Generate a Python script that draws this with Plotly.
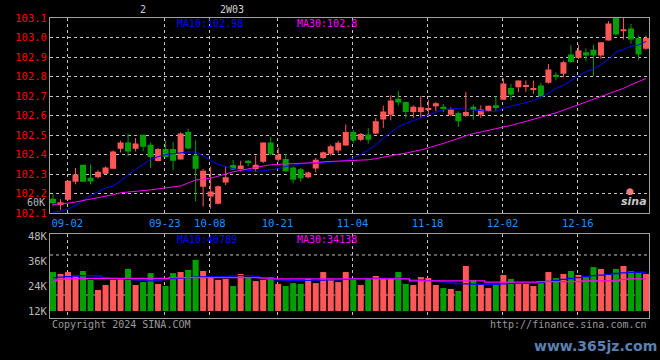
import plotly.graph_objects as go

# ---------------- data ----------------
opens = [102.174, 102.142, 102.169, 102.262, 102.349, 102.282, 102.285, 102.303, 102.328, 102.431,
         102.463, 102.431, 102.502, 102.451, 102.368, 102.429, 102.429, 102.376, 102.516, 102.396,
         102.236, 102.186, 102.149, 102.258, 102.347, 102.325, 102.369, 102.327, 102.364, 102.463,
         102.374, 102.378, 102.335, 102.325, 102.284, 102.330, 102.383, 102.405, 102.422, 102.447,
         102.516, 102.477, 102.503, 102.508, 102.580, 102.605, 102.687, 102.670, 102.619, 102.619,
         102.631, 102.648, 102.646, 102.605, 102.614, 102.598, 102.646, 102.605, 102.622, 102.653,
         102.682, 102.742, 102.745, 102.747, 102.732, 102.755, 102.768, 102.810, 102.815, 102.913,
         102.895, 102.925, 102.938, 102.908, 102.985, 103.104, 103.032, 103.046, 102.997, 102.942]
highs = [102.198, 102.173, 102.267, 102.332, 102.349, 102.349, 102.320, 102.340, 102.422, 102.472,
         102.509, 102.485, 102.502, 102.463, 102.434, 102.473, 102.465, 102.515, 102.533, 102.473,
         102.326, 102.340, 102.243, 102.338, 102.374, 102.369, 102.373, 102.395, 102.463, 102.491,
         102.436, 102.403, 102.340, 102.333, 102.314, 102.383, 102.417, 102.451, 102.470, 102.554,
         102.528, 102.511, 102.537, 102.588, 102.651, 102.704, 102.726, 102.673, 102.653, 102.701,
         102.682, 102.670, 102.660, 102.643, 102.622, 102.721, 102.656, 102.653, 102.651, 102.699,
         102.790, 102.762, 102.780, 102.780, 102.780, 102.768, 102.865, 102.822, 102.882, 102.959,
         102.963, 102.944, 102.964, 102.976, 103.084, 103.109, 103.101, 103.070, 103.010, 103.010]
lows = [102.135, 102.118, 102.166, 102.248, 102.262, 102.248, 102.279, 102.303, 102.328, 102.412,
        102.391, 102.417, 102.417, 102.332, 102.366, 102.385, 102.320, 102.376, 102.426, 102.161,
        102.135, 102.123, 102.145, 102.244, 102.320, 102.315, 102.340, 102.311, 102.357, 102.398,
        102.364, 102.310, 102.255, 102.262, 102.279, 102.310, 102.378, 102.395, 102.408, 102.447,
        102.460, 102.469, 102.457, 102.506, 102.537, 102.576, 102.651, 102.588, 102.588, 102.588,
        102.593, 102.622, 102.617, 102.597, 102.543, 102.594, 102.580, 102.588, 102.617, 102.622,
        102.682, 102.677, 102.720, 102.722, 102.712, 102.694, 102.764, 102.781, 102.797, 102.870,
        102.891, 102.878, 102.802, 102.891, 102.985, 103.010, 102.990, 102.969, 102.887, 102.938]
closes = [102.152, 102.156, 102.267, 102.299, 102.262, 102.263, 102.313, 102.335, 102.417, 102.463,
          102.417, 102.458, 102.441, 102.388, 102.429, 102.388, 102.369, 102.509, 102.432, 102.328,
          102.318, 102.212, 102.239, 102.284, 102.323, 102.345, 102.362, 102.349, 102.463, 102.402,
          102.400, 102.315, 102.272, 102.279, 102.309, 102.374, 102.412, 102.443, 102.461, 102.516,
          102.473, 102.506, 102.477, 102.571, 102.621, 102.677, 102.667, 102.619, 102.646, 102.643,
          102.636, 102.663, 102.637, 102.632, 102.571, 102.619, 102.629, 102.631, 102.651, 102.643,
          102.764, 102.707, 102.780, 102.755, 102.738, 102.699, 102.836, 102.802, 102.873, 102.875,
          102.934, 102.908, 102.908, 102.976, 103.072, 103.015, 103.043, 102.990, 102.913, 102.997]
ma10 = [102.105, 102.110, 102.122, 102.140, 102.165, 102.190, 102.210, 102.230, 102.240, 102.265,
        102.295, 102.325, 102.350, 102.375, 102.390, 102.400, 102.405, 102.410, 102.414, 102.414,
        102.395, 102.370, 102.350, 102.340, 102.328, 102.323, 102.318, 102.315, 102.318, 102.322,
        102.328, 102.340, 102.347, 102.352, 102.355, 102.357, 102.360, 102.362, 102.365, 102.370,
        102.385, 102.400, 102.425, 102.450, 102.485, 102.515, 102.542, 102.560, 102.575, 102.590,
        102.605, 102.618, 102.630, 102.635, 102.636, 102.632, 102.628, 102.626, 102.622, 102.622,
        102.638, 102.648, 102.658, 102.668, 102.677, 102.695, 102.715, 102.740, 102.755, 102.780,
        102.805, 102.825, 102.840, 102.860, 102.890, 102.925, 102.940, 102.955, 102.962, 102.980]
ma30 = [102.145, 102.148, 102.152, 102.158, 102.165, 102.172, 102.178, 102.185, 102.195, 102.205,
        102.208, 102.212, 102.216, 102.220, 102.225, 102.229, 102.233, 102.240, 102.255, 102.270,
        102.275, 102.280, 102.290, 102.303, 102.312, 102.320, 102.328, 102.337, 102.342, 102.348,
        102.352, 102.353, 102.354, 102.355, 102.357, 102.360, 102.364, 102.366, 102.368, 102.370,
        102.372, 102.373, 102.374, 102.380, 102.388, 102.395, 102.402, 102.408, 102.415, 102.425,
        102.435, 102.445, 102.458, 102.470, 102.485, 102.497, 102.508, 102.516, 102.524, 102.532,
        102.540, 102.550, 102.560, 102.570, 102.580, 102.592, 102.604, 102.614, 102.628, 102.642,
        102.655, 102.668, 102.680, 102.697, 102.712, 102.725, 102.740, 102.758, 102.776, 102.790]
volumes = [30700, 29800, 30700, 29000, 31200, 26900, 22100, 24500, 26900, 27400,
           32200, 24500, 25900, 30200, 25000, 24000, 30200, 30700, 31700, 36500,
           31200, 28300, 26900, 27400, 24000, 29800, 28300, 26400, 26900, 28300,
           25000, 24000, 25400, 25000, 27400, 25400, 30700, 27400, 25900, 30700,
           26900, 24500, 27800, 28800, 27800, 27800, 30700, 25000, 24500, 28300,
           27800, 24500, 23000, 22600, 21600, 33600, 26900, 25000, 23000, 25000,
           29300, 27400, 25000, 25400, 24000, 26400, 30700, 27800, 29800, 31200,
           29300, 28800, 33100, 32200, 29300, 32200, 33600, 31200, 30200, 29800]
vol_ma10 = [28000, 28300, 28500, 28800, 29000, 29000, 28800, 28000, 27600, 27400,
            27200, 27000, 26800, 26500, 26500, 27200, 27600, 27800, 28000, 28200,
            28400, 28500, 28500, 28600, 28800, 29000, 29000, 28600, 28000, 27400,
            27000, 26800, 26700, 26700, 26700, 26800, 26800, 26900, 27000, 27200,
            27400, 27500, 27600, 27700, 27700, 27700, 27600, 27400, 27000, 26800,
            26600, 26400, 26000, 25500, 25200, 25000, 24900, 24800, 24800, 24800,
            25000, 25300, 25400, 25300, 25400, 25600, 26200, 26700, 27200, 27600,
            28000, 28500, 29000, 29200, 29600, 30000, 30300, 30500, 30600, 30600]
vol_ma30 = [26400, 27200, 27400, 27500, 27600, 27700, 27700, 27700, 27700, 27700,
            27700, 27700, 27700, 27700, 27700, 27700, 28000, 28000, 28000, 28000,
            28000, 28000, 28000, 28000, 28000, 28000, 28000, 28000, 27800, 27400,
            27400, 27400, 27400, 27400, 27400, 27400, 27400, 27400, 27400, 27400,
            27400, 27400, 27400, 27400, 27400, 27400, 27400, 27400, 26500, 26500,
            26500, 26500, 26500, 26500, 26500, 26500, 26500, 26500, 25900, 25900,
            25900, 25900, 25900, 25900, 25900, 26100, 26100, 26100, 26100, 26100,
            26100, 26400, 26400, 26400, 26400, 26400, 27200, 27400, 27400, 27400]
tick_labels = ["09-02", "09-23", "10-08", "10-21", "11-04", "11-18", "12-02", "12-16"]
tick_index = [2, 15, 21, 30, 40, 50, 60, 70]
price_ticks = [102.1, 102.2, 102.3, 102.4, 102.5, 102.6, 102.7, 102.8, 102.9, 103.0, 103.1]
vol_ticks = [12000, 24000, 36000, 48000]
vol_tick_labels = ["12K", "24K", "36K", "48K"]
vol_base = 12000

# ---------------- styling ----------------
RED = "#ff5757"
GREEN = "#00a000"
BLUE = "#0000ff"
MAGENTA = "#ff00ff"
GRID = "#c4c4c4"
FRAME = "#a0a0a0"
MONO = "DejaVu Sans Mono, Liberation Mono, monospace"

idx = list(range(len(opens)))
is_up = [c >= o for o, c in zip(opens, closes)]
colors = [RED if u else GREEN for u in is_up]
body_base = [min(o, c) for o, c in zip(opens, closes)]
body_h = [max(abs(c - o), 0.006) for o, c in zip(opens, closes)]

fig = go.Figure()

# wicks
for up_flag, col in [(True, RED), (False, GREEN)]:
    wx, wy = [], []
    for i in idx:
        if is_up[i] == up_flag:
            wx += [i, i, None]
            wy += [lows[i], highs[i], None]
    fig.add_trace(go.Scatter(x=wx, y=wy, mode="lines", line=dict(color=col, width=1),
                             xaxis="x", yaxis="y", hoverinfo="skip"))

# bodies
fig.add_trace(go.Bar(x=idx, y=body_h, base=body_base, width=0.8,
                     marker=dict(color=colors, line=dict(width=0)),
                     xaxis="x", yaxis="y"))

fig.add_trace(go.Scatter(x=idx, y=ma10, mode="lines", line=dict(color=BLUE, width=1),
                         xaxis="x", yaxis="y"))
fig.add_trace(go.Scatter(x=idx, y=ma30, mode="lines", line=dict(color=MAGENTA, width=1),
                         xaxis="x", yaxis="y"))

# volume
fig.add_trace(go.Bar(x=idx, y=[v - vol_base for v in volumes], base=vol_base, width=0.8,
                     marker=dict(color=colors, line=dict(width=0)),
                     xaxis="x2", yaxis="y2"))
fig.add_trace(go.Scatter(x=idx, y=vol_ma10, mode="lines", line=dict(color=BLUE, width=1.3, shape="hvh"),
                         xaxis="x2", yaxis="y2"))
fig.add_trace(go.Scatter(x=idx, y=vol_ma30, mode="lines", line=dict(color=MAGENTA, width=1.3, shape="hvh"),
                         xaxis="x2", yaxis="y2"))

xr = [-0.4, len(idx) - 0.6]
tickvals = [t - 0.1 for t in tick_index]

fig.update_layout(
    width=660, height=360,
    margin=dict(l=50, r=11, t=18, b=42, autoexpand=False),
    paper_bgcolor="black", plot_bgcolor="black",
    showlegend=False, hovermode=False,
    xaxis=dict(domain=[0, 1], range=xr, anchor="y", tickvals=tickvals, ticktext=tick_labels,
               tickfont=dict(family=MONO, size=10.5, color="#1e90ff"), ticks="", automargin=False,
               showgrid=True, gridcolor=GRID, griddash="dot", gridwidth=1,
               showline=True, mirror=True, linecolor=FRAME, linewidth=1, zeroline=False),
    yaxis=dict(domain=[0.349, 1], range=[102.1, 103.1], tickvals=price_ticks, tickformat=".1f",
               tickfont=dict(family=MONO, size=10.5, color="#ff0000"), ticks="", automargin=False,
               showgrid=True, gridcolor=GRID, griddash="dot", gridwidth=1,
               showline=True, mirror=True, linecolor=FRAME, linewidth=1, zeroline=False),
    xaxis2=dict(domain=[0, 1], range=xr, anchor="y2", matches="x", tickvals=tickvals,
                showticklabels=False, ticks="", automargin=False,
                showgrid=True, gridcolor=GRID, griddash="dot", gridwidth=1,
                showline=True, mirror=True, linecolor=FRAME, linewidth=1, zeroline=False),
    yaxis2=dict(domain=[0, 0.279], range=[8640, 48816], tickvals=vol_ticks, ticktext=vol_tick_labels,
                tickfont=dict(family=MONO, size=10.5, color="#b8b8b8"), ticks="", automargin=False,
                showgrid=False, showline=True, mirror=True, linecolor=FRAME, linewidth=1,
                zeroline=False),
)

# dotted horizontal guides in the volume panel
for yy in [0.275, 0.753]:
    fig.add_shape(type="line", xref="x2 domain", yref="y2 domain", x0=0, x1=1, y0=yy, y1=yy,
                  line=dict(color=GRID, width=1, dash="dot"), layer="below")

def note(text, x, y, color, size=10, xanchor="left", family=MONO, **kw):
    fig.add_annotation(text=text, x=x, y=y, xref="paper", yref="paper", showarrow=False,
                       xanchor=xanchor, yanchor="middle",
                       font=dict(family=family, size=size, color=color), **kw)

note("MA10:102.98", 0.2087, 0.983, BLUE)
note("MA30:102.8", 0.409, 0.983, MAGENTA)
note("MA10:40789", 0.2087, 0.263, BLUE)
note("MA30:34138", 0.409, 0.263, MAGENTA)
note("60K", -0.005, 0.385, "#b8b8b8", size=10, xanchor="right")
note("2", 0.155, 1.027, "#d0d0d0", size=10, xanchor="center")
note("2W03", 0.304, 1.027, "#d0d0d0", size=10, xanchor="center")
note("Copyright 2024 SINA.COM", 0.0, -0.02, "#9a9a9a", size=10)
note("http://finance.sina.com.cn", 1.0, -0.02, "#9a9a9a", size=10, xanchor="right")
note("<b>www.365jz.com</b>", 0.91, -0.093, "#5a80b0", size=14, xanchor="center",
     family="DejaVu Sans, Arial, sans-serif")
note("●", 0.968, 0.425, "#f08080", size=9, xanchor="center", family="DejaVu Sans")
note("<i><b>sina</b></i>", 0.975, 0.39, "#c8c8c8", size=11, xanchor="center",
     family="DejaVu Sans, Arial, sans-serif")

# remove the default page margin so the 660x360 figure fills the window exactly
page_fix = "document.body.style.margin='0';document.body.style.background='black';"
fig.write_html("out.html", post_script=page_fix, config={"displayModeBar": False})
